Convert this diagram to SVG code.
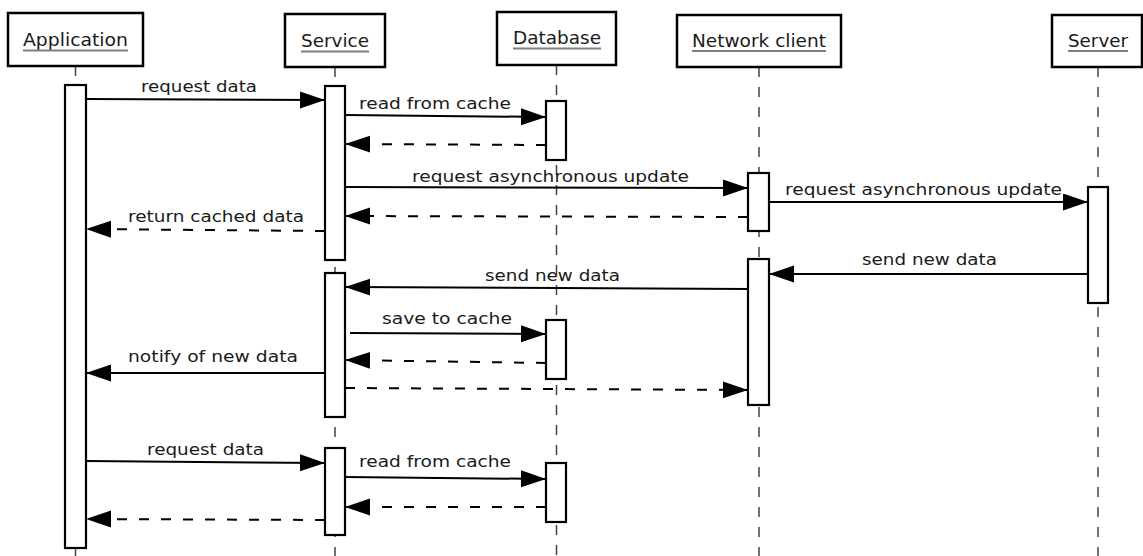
<svg xmlns="http://www.w3.org/2000/svg" width="1143" height="556" viewBox="0 0 1143 556">
<style>
.box{fill:#fff;stroke:#000;stroke-width:2.5}
.act{fill:#fff;stroke:#000;stroke-width:2.2}
.life{stroke:#444;stroke-width:1.5;stroke-dasharray:10 10;fill:none}
.title{font-family:"DejaVu Sans",sans-serif;font-size:18px;fill:#1a1a1a}
.ul{stroke:#808080;stroke-width:2}
.lbl{font-family:"DejaVu Sans",sans-serif;font-size:15px;fill:#1a1a1a}
.msg{stroke:#000;stroke-width:2;fill:none;marker-end:url(#ah)}
.ret{stroke:#000;stroke-width:2;fill:none;stroke-dasharray:10 12;marker-end:url(#ah)}
</style>
<defs>
<marker id="ah" markerUnits="userSpaceOnUse" markerWidth="26" markerHeight="18" refX="25" refY="8.5" orient="auto">
<path d="M0,0 L25,8.5 L0,17 z" fill="#000"/>
</marker>
</defs>

<g id="lifelines">
<line class="life" x1="75.5" y1="66" x2="75.5" y2="556"/>
<line class="life" x1="335" y1="67" x2="335" y2="556"/>
<line class="life" x1="556.5" y1="65" x2="556.5" y2="556"/>
<line class="life" x1="759" y1="67" x2="759" y2="556"/>
<line class="life" x1="1098" y1="67" x2="1098" y2="556"/>
</g>

<g id="application">
<rect class="box" x="8" y="13" width="135" height="53"/>
<text class="title" x="23" y="46" textLength="105" lengthAdjust="spacingAndGlyphs">Application</text>
<line class="ul" x1="23" y1="50.5" x2="128" y2="50.5"/>
<rect class="act" x="65" y="85" width="21" height="463"/>
</g>

<g id="service">
<rect class="box" x="285" y="14" width="100" height="53"/>
<text class="title" x="301" y="47" textLength="68" lengthAdjust="spacingAndGlyphs">Service</text>
<line class="ul" x1="301" y1="51.5" x2="369" y2="51.5"/>
<rect class="act" x="325" y="86" width="20" height="174"/>
<rect class="act" x="325" y="273" width="20" height="144"/>
<rect class="act" x="325" y="448" width="20" height="87"/>
</g>

<g id="database">
<rect class="box" x="497" y="12" width="119" height="53"/>
<text class="title" x="513" y="44" textLength="88" lengthAdjust="spacingAndGlyphs">Database</text>
<line class="ul" x1="513" y1="48.5" x2="601" y2="48.5"/>
<rect class="act" x="546" y="101" width="20" height="59"/>
<rect class="act" x="546" y="320" width="20" height="59"/>
<rect class="act" x="546" y="463" width="20" height="59"/>
</g>

<g id="network-client">
<rect class="box" x="677" y="15" width="164" height="52"/>
<text class="title" x="692" y="47" textLength="134" lengthAdjust="spacingAndGlyphs">Network client</text>
<line class="ul" x1="692" y1="51" x2="826" y2="51"/>
<rect class="act" x="748" y="173" width="21" height="58"/>
<rect class="act" x="748" y="259" width="21" height="146"/>
</g>

<g id="server">
<rect class="box" x="1052" y="15" width="90" height="52"/>
<text class="title" x="1068" y="47" textLength="60" lengthAdjust="spacingAndGlyphs">Server</text>
<line class="ul" x1="1068" y1="51" x2="1128" y2="51"/>
<rect class="act" x="1088" y="187" width="20" height="116"/>
</g>

<g id="connectors">
<line class="msg" x1="86" y1="99" x2="325" y2="100"/>
<text class="lbl" x="141" y="92" textLength="116" lengthAdjust="spacingAndGlyphs">request data</text>

<line class="msg" x1="345" y1="115" x2="546" y2="117"/>
<text class="lbl" x="359" y="109" textLength="152" lengthAdjust="spacingAndGlyphs">read from cache</text>

<line class="ret" x1="546" y1="145" x2="345" y2="144"/>

<line class="msg" x1="345" y1="187" x2="748" y2="188"/>
<text class="lbl" x="412" y="182" textLength="277" lengthAdjust="spacingAndGlyphs">request asynchronous update</text>

<line class="ret" x1="748" y1="217" x2="345" y2="216"/>

<line class="ret" x1="325" y1="231" x2="86" y2="229"/>
<text class="lbl" x="128" y="222" textLength="176" lengthAdjust="spacingAndGlyphs">return cached data</text>

<line class="msg" x1="769" y1="202" x2="1088" y2="202"/>
<text class="lbl" x="785" y="195" textLength="277" lengthAdjust="spacingAndGlyphs">request asynchronous update</text>

<line class="msg" x1="1088" y1="274" x2="769" y2="274"/>
<text class="lbl" x="862" y="265" textLength="135" lengthAdjust="spacingAndGlyphs">send new data</text>

<line class="msg" x1="748" y1="289" x2="345" y2="287"/>
<text class="lbl" x="485" y="281" textLength="135" lengthAdjust="spacingAndGlyphs">send new data</text>

<line class="msg" x1="350" y1="333" x2="546" y2="334"/>
<text class="lbl" x="382" y="324" textLength="130" lengthAdjust="spacingAndGlyphs">save to cache</text>

<line class="ret" x1="546" y1="363" x2="345" y2="360"/>

<line class="msg" x1="325" y1="373" x2="86" y2="373"/>
<text class="lbl" x="128" y="362" textLength="170" lengthAdjust="spacingAndGlyphs">notify of new data</text>

<line class="ret" x1="345" y1="388" x2="748" y2="390"/>

<line class="msg" x1="86" y1="461" x2="325" y2="463"/>
<text class="lbl" x="147" y="455" textLength="117" lengthAdjust="spacingAndGlyphs">request data</text>

<line class="msg" x1="345" y1="477" x2="546" y2="479"/>
<text class="lbl" x="359" y="467" textLength="152" lengthAdjust="spacingAndGlyphs">read from cache</text>

<line class="ret" x1="546" y1="507" x2="345" y2="507"/>

<line class="ret" x1="325" y1="520" x2="86" y2="519"/>
</g>
</svg>
